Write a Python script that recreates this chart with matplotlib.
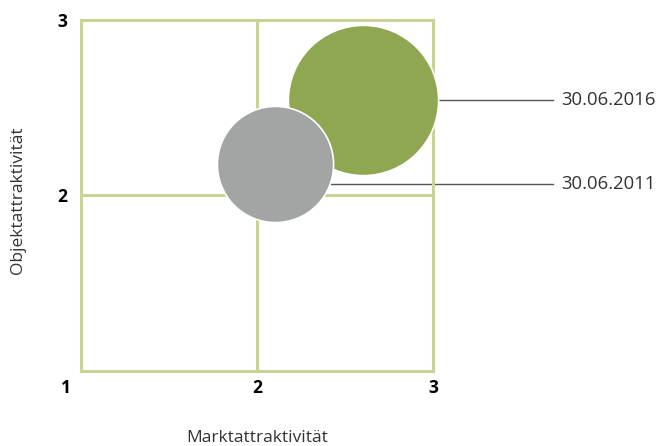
import matplotlib.pyplot as plt
from matplotlib.transforms import blended_transform_factory

plt.rcParams['font.family'] = ['Open Sans', 'DejaVu Sans']

# Daten
labels = ['30.06.2016', '30.06.2011']
markt = [2.60, 2.10]
objekt = [2.545, 2.18]
groesse = [11700, 7000]
farben = ['#8fa751', '#a3a5a4']
# Höhe der Beschriftungslinien
label_y = [2.545, 2.065]
line_start = [3.03, 2.40]

gridfarbe = '#c9d398'

fig = plt.figure(figsize=(6.56, 4.46), dpi=100)
ax = fig.add_axes([81 / 656, 75 / 446, 352 / 656, 351 / 446])
ax.set_xlim(1, 3)
ax.set_ylim(1, 3)

for s in ax.spines.values():
    s.set_color(gridfarbe)
    s.set_linewidth(2.2)
ax.axvline(2, color=gridfarbe, lw=2.2, zorder=1)
ax.axhline(2, color=gridfarbe, lw=2.2, zorder=1)

for i in range(len(labels)):
    ax.scatter(markt[i], objekt[i], s=groesse[i], color=farben[i],
               edgecolor='white', linewidth=1.2, zorder=3 + i, clip_on=False)
    ax.plot([line_start[i], 3.682], [label_y[i], label_y[i]], color='#555555',
            lw=1, zorder=2, clip_on=False)
    ax.text(3.73, label_y[i], labels[i], va='center', ha='left', fontsize=13.3,
            color='#333333')

ax.set_xticks([2, 3])
ax.set_xticklabels(['2', '3'], fontweight='bold', fontsize=12.5)
ax.set_yticks([2, 3])
ax.set_yticklabels(['2', '3'], fontweight='bold', fontsize=12.5)
ax.tick_params(axis='x', length=0, pad=6)
ax.tick_params(axis='y', length=0, pad=10)
trans = blended_transform_factory(ax.transAxes, ax.transAxes)
ax.text(-15 / 352, -17 / 351, '1', transform=trans, ha='center', va='center',
        fontweight='bold', fontsize=12.5)

fig.text(257 / 656, 1 - 438 / 446, 'Marktattraktivität', ha='center', va='center',
         fontsize=12.5, color='#333333')
fig.text(18 / 656, 1 - 200 / 446, 'Objektattraktivität', ha='center', va='center',
         rotation=90, fontsize=12.5, color='#333333')

plt.savefig('out.png', dpi=100)
